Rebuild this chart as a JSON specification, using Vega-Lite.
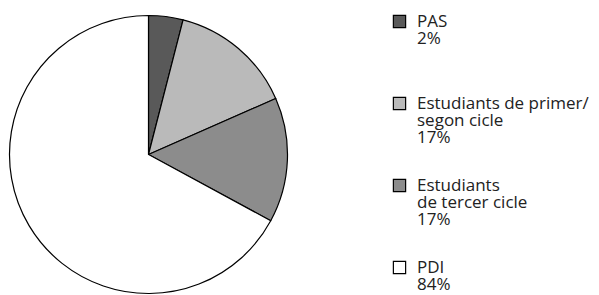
{
  "$schema": "https://vega.github.io/schema/vega-lite/v6.json",
  "width": 297,
  "height": 283,
  "padding": {"left": 0, "top": 13, "right": 0, "bottom": 0},
  "background": "white",
  "view": {"stroke": null},
  "data": {
    "values": [
      {"categoria": "PAS", "etiqueta": "PAS|2%|", "valor": 4.0, "ordre": 1},
      {"categoria": "Estudiants de primer/segon cicle", "etiqueta": "Estudiants de primer/|segon cicle|17%", "valor": 14.4, "ordre": 2},
      {"categoria": "Estudiants de tercer cicle", "etiqueta": "Estudiants|de tercer cicle|17%", "valor": 14.5, "ordre": 3},
      {"categoria": "PDI", "etiqueta": "PDI|84%", "valor": 67.1, "ordre": 4}
    ]
  },
  "mark": {"type": "arc", "outerRadius": 139, "stroke": "black", "strokeWidth": 1.2},
  "encoding": {
    "theta": {"field": "valor", "type": "quantitative", "stack": true},
    "order": {"field": "ordre", "type": "quantitative"},
    "color": {
      "field": "etiqueta",
      "type": "nominal",
      "sort": ["PAS|2%|", "Estudiants de primer/|segon cicle|17%", "Estudiants|de tercer cicle|17%", "PDI|84%"],
      "scale": {
        "domain": ["PAS|2%|", "Estudiants de primer/|segon cicle|17%", "Estudiants|de tercer cicle|17%", "PDI|84%"],
        "range": ["#595959", "#bababa", "#8c8c8c", "#ffffff"]
      },
      "legend": {
        "title": null,
        "orient": "right",
        "offset": 94,
        "padding": 0,
        "symbolType": "square",
        "symbolSize": 150,
        "symbolStrokeColor": "black",
        "symbolStrokeWidth": 1.2,
        "symbolOpacity": 1,
        "labelExpr": "split(datum.label, '|')",
        "labelFont": "Open Sans",
        "labelFontSize": 17,
        "labelColor": "#222222",
        "labelOffset": 9,
        "labelLimit": 300,
        "rowPadding": 30
      }
    }
  },
  "config": {
    "style": {"guide-label": {"lineHeight": 17}}
  }
}
